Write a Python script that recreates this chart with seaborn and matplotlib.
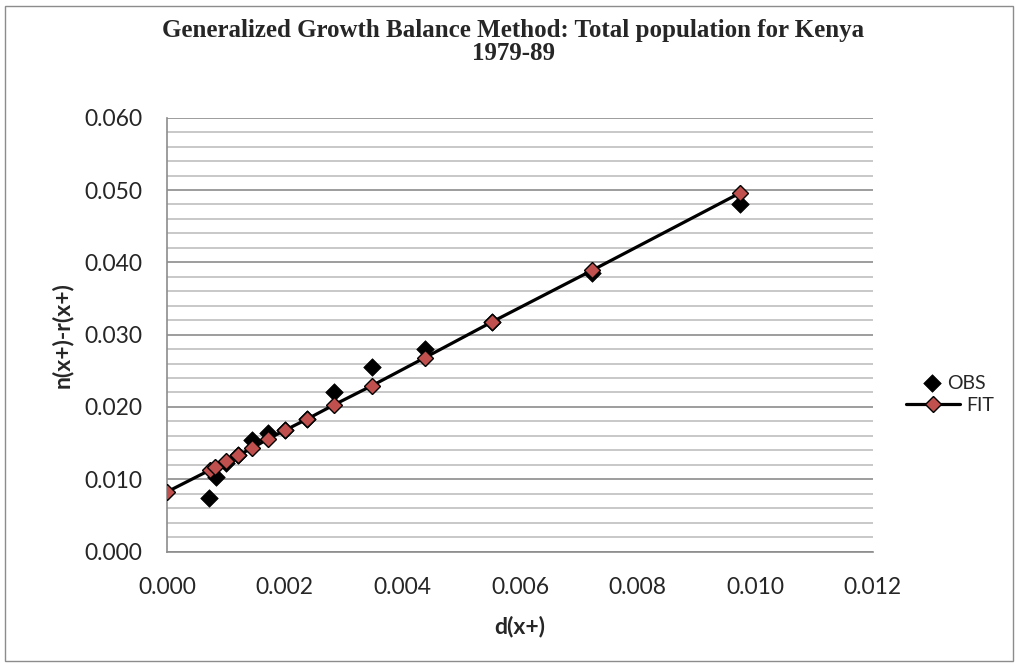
import matplotlib
matplotlib.use("Agg")
import matplotlib.pyplot as plt
import seaborn as sns
import numpy as np
import pandas as pd
from matplotlib.patches import Rectangle
from matplotlib.ticker import MultipleLocator, FormatStrFormatter

# Data
obs_x = [0.000714, 0.000823, 0.000998, 0.00121, 0.00144, 0.00171, 0.00201,
         0.00237, 0.00284, 0.00348, 0.00438, 0.00553, 0.00723, 0.00975]
obs_y = [0.00736, 0.01035, 0.0123, 0.0134, 0.01542, 0.01643, 0.0168,
         0.0183, 0.0221, 0.02556, 0.0280, 0.0318, 0.03848, 0.04806]
fit_x = [0.0, 0.000726, 0.000811, 0.000998, 0.00121, 0.00144, 0.00171, 0.00201,
         0.00237, 0.00284, 0.00348, 0.00438, 0.00553, 0.00723, 0.00975]
fit_y = [0.00827, 0.01127, 0.01173, 0.01245, 0.01335, 0.01427, 0.01556, 0.01680,
         0.01828, 0.0203, 0.02293, 0.0268, 0.03178, 0.0389, 0.04962]

title = "Generalized Growth Balance Method: Total population for Kenya\n1979-89"
xlabel = "d(x+)"
ylabel = "n(x+)-r(x+)"

sns.set_style("white")
plt.rcParams['font.family'] = ['Lato', 'DejaVu Sans']

W, H = 1019, 666
fig = plt.figure(figsize=(W/100, H/100), dpi=100)
ax_l, ax_r, ax_t, ax_b = 167.3, 872.7, 117.7, 551.5
ax = fig.add_axes([ax_l/W, 1 - ax_b/H, (ax_r-ax_l)/W, (ax_b-ax_t)/H])

obs_df = pd.DataFrame({"x": obs_x, "y": obs_y})
fit_df = pd.DataFrame({"x": fit_x, "y": fit_y})

sns.scatterplot(data=obs_df, x="x", y="y", ax=ax, marker="D", s=80,
                color="black", edgecolor="black", linewidth=0.5, zorder=3, label="OBS")
sns.lineplot(data=fit_df, x="x", y="y", ax=ax, color="black", linewidth=2.3,
             marker="D", markersize=8.5, markerfacecolor="#C0504D",
             markeredgecolor="black", markeredgewidth=1.0, zorder=4, label="FIT",
             sort=False)

ax.set_xlim(0, 0.012)
ax.set_ylim(0, 0.060)
ax.xaxis.set_major_locator(MultipleLocator(0.002))
ax.yaxis.set_major_locator(MultipleLocator(0.010))
ax.yaxis.set_minor_locator(MultipleLocator(0.002))
ax.xaxis.set_major_formatter(FormatStrFormatter("%.3f"))
ax.yaxis.set_major_formatter(FormatStrFormatter("%.3f"))

ax.grid(False)
ax.yaxis.grid(True, which="major", color="#8C8C8C", linewidth=1.2)
ax.yaxis.grid(True, which="minor", color="#BFBFBF", linewidth=1.2)
ax.set_axisbelow(True)

for s in ["top", "right"]:
    ax.spines[s].set_visible(False)
for s in ["left", "bottom"]:
    ax.spines[s].set_color("#8C8C8C")
    ax.spines[s].set_linewidth(1.2)

ax.tick_params(axis="both", which="major", direction="out", length=6,
               width=1.2, color="#8C8C8C", labelsize=16.5, pad=12)
ax.tick_params(axis="y", which="minor", length=0)

ax.set_xlabel(xlabel, fontsize=16.5, fontweight="bold", labelpad=13)
ax.set_ylabel(ylabel, fontsize=16.5, fontweight="bold", labelpad=8)

fig.text(513/W, 1 - 42/H, title, ha="center", va="center",
         fontsize=18, fontweight="bold", family=["Liberation Serif"],
         linespacing=1.0)

# Legend: two entries placed like the reference (OBS above FIT)
handles, labels = ax.get_legend_handles_labels()
hmap = dict(zip(labels, handles))
fs = 14
fspx = fs * 100 / 72
axw = ax_r - ax_l
axh = ax_b - ax_t
leg_obs = ax.legend([hmap["OBS"]], ["OBS"], loc="center left",
                    bbox_to_anchor=((922.8 - ax_l)/axw, (ax_b - 383)/axh),
                    frameon=False, fontsize=fs, handlelength=0.95,
                    handletextpad=0.3, borderaxespad=0, borderpad=0)
ax.add_artist(leg_obs)
leg_fit = ax.legend([hmap["FIT"]], ["FIT"], loc="center left",
                    bbox_to_anchor=((906 - ax_l)/axw, (ax_b - 405)/axh),
                    frameon=False, fontsize=fs, handlelength=2.8,
                    handletextpad=0.3, borderaxespad=0, borderpad=0)

fig.patches.append(Rectangle((5/W, 5/H), 1008/W, 655/H,
                             transform=fig.transFigure, fill=False,
                             edgecolor="#8C8C8C", linewidth=1.0))

fig.savefig("out.png", dpi=100)
